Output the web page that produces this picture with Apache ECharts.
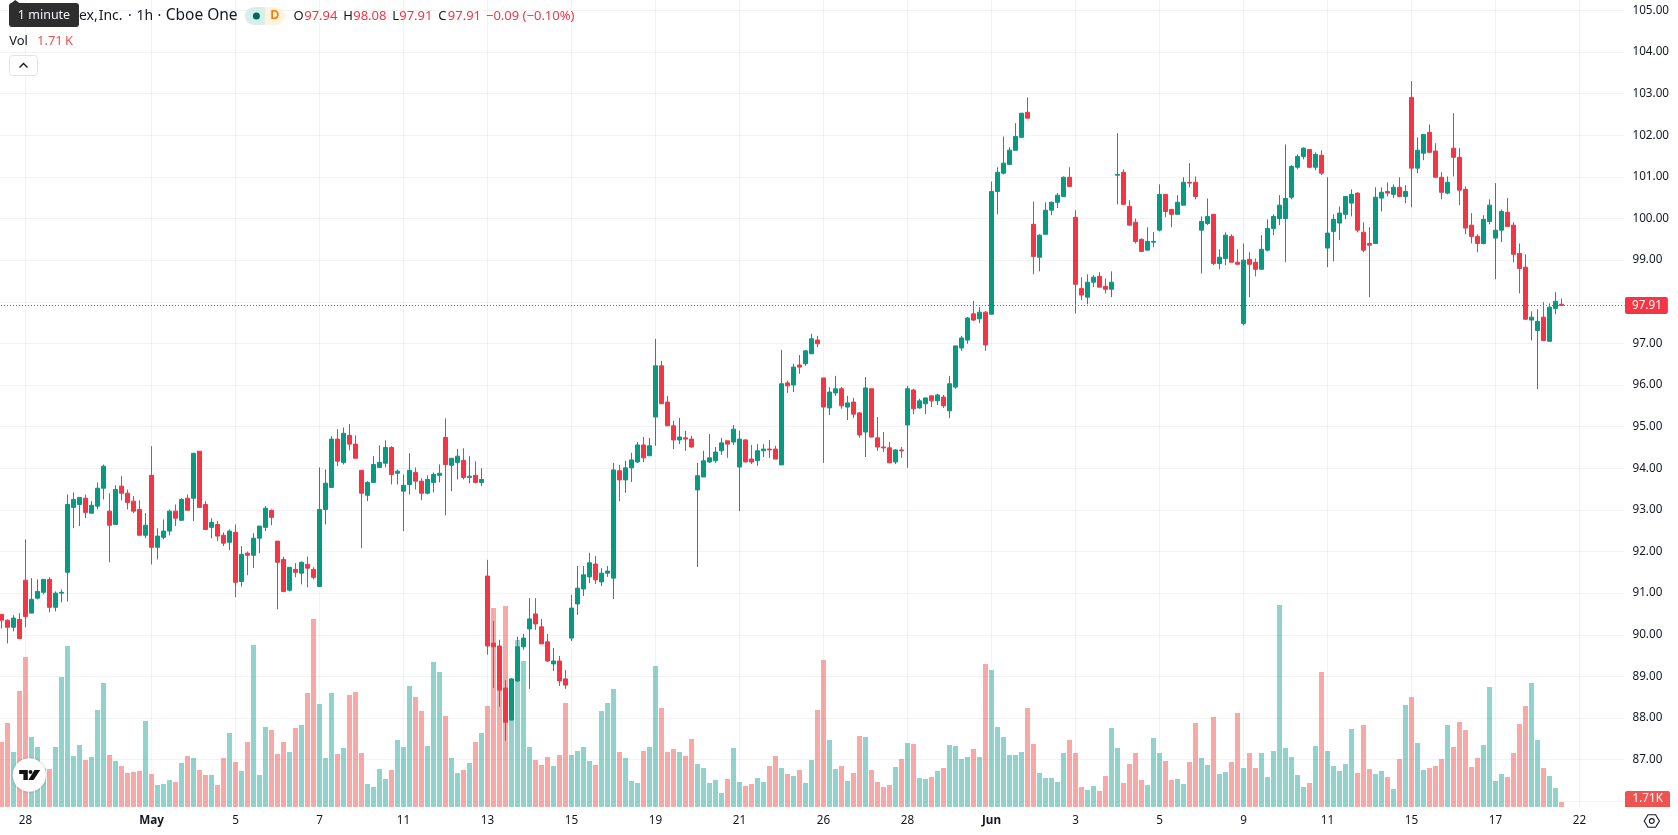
<!DOCTYPE html>
<html>
<head>
<meta charset="utf-8">
<title>Hourly candles with volume</title>
<style>
  html, body { margin: 0; padding: 0; background: #ffffff; }
  #chart { width: 1678px; height: 835px; overflow: hidden; }
</style>
<script src="https://cdn.jsdelivr.net/npm/echarts@6/dist/echarts.min.js"></script>
</head>
<body>
<div id="chart"></div>
<script>
// Hourly session prices, seven bars per trading day.
const opens = [
  90.49,90.35,90.18,90.37,91.31,90.52,90.88,91.02,91.33,90.66,
  91.00,91.50,93.06,93.13,93.28,92.92,93.09,93.52,92.97,92.65,
  93.57,93.40,93.21,93.01,92.39,93.83,92.10,92.34,92.49,92.97,
  92.75,93.28,93.28,94.41,93.13,92.58,92.65,92.39,92.22,92.46,
  91.28,91.96,91.91,92.32,92.58,92.99,92.25,91.81,91.07,91.57,
  91.48,91.69,91.57,91.16,93.01,93.54,94.70,94.14,94.79,94.58,
  93.95,93.35,93.66,94.02,94.12,94.50,93.88,93.45,93.61,93.90,
  93.69,93.40,93.66,93.83,94.74,94.07,94.14,94.19,93.78,93.83,
  93.66,91.41,89.80,89.73,88.72,87.95,88.89,89.71,90.14,90.50,
  90.19,89.83,89.30,89.37,88.94,89.92,90.74,91.10,91.39,91.70,
  91.27,91.48,91.36,93.94,93.72,94.01,94.15,94.56,94.30,95.23,
  96.46,95.59,95.02,94.68,94.73,94.70,93.48,93.79,94.15,94.18,
  94.42,94.66,94.63,94.03,94.68,94.22,94.18,94.42,94.46,94.46,
  94.08,96.05,96.00,96.48,96.51,96.75,97.08,96.17,95.45,95.81,
  95.91,95.47,95.59,95.33,94.87,95.91,94.73,94.51,94.49,94.15,
  94.44,95.04,95.88,95.45,95.55,95.74,95.62,95.71,95.38,95.95,
  96.89,97.08,97.71,97.59,97.75,97.70,100.65,101.09,101.30,101.64,
  101.95,102.55,99.86,99.07,99.62,100.20,100.39,100.53,100.99,100.03,
  98.32,98.11,98.47,98.61,98.37,98.30,101.04,101.11,100.29,99.91,
  99.50,99.24,99.43,99.72,100.58,100.22,100.10,100.32,100.87,100.87,
  99.72,99.88,100.10,98.92,99.04,99.57,98.95,97.48,99.02,98.95,
  98.78,99.24,99.76,100.00,100.00,100.51,101.23,101.49,101.66,101.23,
  101.52,99.29,99.69,99.89,100.10,100.37,100.61,99.67,99.40,99.40,
  100.49,100.65,100.58,100.75,100.53,102.91,101.21,101.57,102.07,101.62,
  100.99,100.61,101.69,101.47,100.70,99.84,99.57,99.40,99.93,99.53,
  99.72,100.15,99.84,99.16,98.83,97.56,97.31,97.63,97.05,97.84,97.94
];
const highs = [
  90.50,90.37,90.47,90.52,92.29,91.36,91.33,91.33,91.38,91.04,
  91.09,93.37,93.42,93.30,93.37,93.21,93.66,94.09,93.40,93.59,
  93.81,93.49,93.33,93.23,92.92,94.53,92.56,92.77,93.01,93.13,
  93.28,93.37,94.36,94.41,93.21,92.80,92.73,92.46,92.53,92.65,
  92.13,92.00,92.44,92.61,93.09,93.01,92.25,91.88,91.62,91.72,
  91.76,91.88,91.62,94.02,93.97,94.77,94.94,94.98,95.06,94.79,
  93.95,93.69,94.29,94.55,94.67,94.53,93.97,93.85,94.36,94.02,
  93.76,93.83,93.90,94.09,95.20,94.24,94.46,94.48,94.29,94.17,
  94.00,91.80,90.33,89.88,88.91,88.96,89.95,90.02,90.88,90.88,
  90.38,90.02,89.68,89.49,89.15,90.96,91.65,91.65,91.97,91.89,
  91.60,91.65,94.13,94.08,94.18,94.37,94.63,94.75,94.73,97.11,
  96.58,95.74,95.14,95.21,94.90,94.78,94.13,94.42,94.82,94.51,
  94.73,94.66,95.04,94.90,94.70,94.56,94.58,94.58,94.68,94.54,
  96.84,96.10,96.51,96.72,96.84,97.23,97.18,96.17,95.95,96.22,
  95.95,95.74,95.69,95.35,96.19,95.91,95.23,94.87,94.63,94.46,
  94.51,95.98,95.91,95.67,95.69,95.74,95.79,95.76,96.22,96.94,
  97.18,97.63,98.02,97.87,97.78,100.89,101.23,101.97,101.71,102.29,
  102.53,102.91,100.41,99.62,100.39,100.41,100.61,101.01,101.23,100.20,
  98.59,98.66,98.64,98.71,98.56,98.73,102.05,101.18,100.44,100.00,
  99.52,99.79,99.67,100.82,100.58,100.22,100.56,100.99,101.33,101.01,
  100.05,100.48,100.10,99.26,99.67,99.62,99.26,99.40,99.19,99.04,
  99.60,99.98,100.10,100.56,101.78,101.28,101.54,101.71,101.66,101.59,
  101.64,100.99,100.10,100.29,100.53,100.70,100.63,99.91,99.79,100.75,
  100.75,100.87,100.82,100.99,100.80,103.30,101.95,102.02,102.26,101.81,
  101.11,101.01,102.53,101.69,100.77,100.13,99.62,100.08,100.46,100.85,
  100.22,100.49,99.91,99.40,99.14,97.77,97.82,97.99,97.96,98.23,98.08
];
const lows = [
  90.15,89.79,90.08,89.91,90.18,90.52,90.85,90.97,90.54,90.56,
  90.78,90.80,92.56,92.61,92.80,92.92,93.01,93.25,91.74,92.65,
  93.23,93.01,92.92,92.39,92.32,91.69,91.81,92.29,92.39,92.61,
  92.75,92.99,92.73,93.06,92.53,92.32,92.25,92.13,92.03,90.90,
  91.16,91.43,91.60,91.96,92.49,92.63,90.61,91.02,91.04,91.38,
  91.21,91.14,91.33,91.16,92.65,93.54,94.05,94.09,94.43,94.24,
  92.08,93.21,93.66,94.02,94.02,93.61,93.61,92.49,93.37,93.49,
  93.23,93.37,93.42,93.66,92.87,93.45,93.73,93.73,93.64,93.64,
  93.57,89.52,88.72,88.27,87.45,87.95,88.87,89.64,88.70,90.12,
  89.78,89.35,89.13,88.77,88.70,89.85,90.48,90.93,91.24,91.22,
  91.17,91.39,90.86,93.21,93.41,93.67,94.13,94.15,94.30,94.54,
  95.55,95.02,94.46,94.58,94.42,94.49,91.63,93.79,94.13,94.13,
  94.32,94.25,94.56,92.97,94.15,94.10,94.06,94.27,94.25,94.22,
  94.08,95.81,95.83,96.27,96.46,96.75,96.91,94.13,95.28,95.74,
  95.43,95.16,95.21,94.73,94.27,94.75,94.42,94.39,94.13,94.10,
  94.25,94.01,95.30,95.43,95.30,95.47,95.52,95.45,95.21,95.91,
  96.82,96.99,97.54,97.49,96.82,97.70,100.10,101.06,101.30,101.64,
  101.93,102.41,98.66,98.73,99.62,100.08,100.25,100.53,100.77,97.72,
  98.04,97.94,98.35,98.35,98.20,98.11,100.34,100.34,99.84,99.40,
  99.21,99.24,99.31,99.69,100.03,99.79,100.10,100.32,100.75,100.46,
  98.68,99.84,98.88,98.78,98.88,98.95,98.90,97.43,98.11,98.61,
  98.78,99.21,99.60,99.84,98.95,100.46,101.18,101.42,101.21,101.16,
  101.04,98.83,98.97,99.48,99.98,100.05,99.67,99.19,98.11,99.40,
  100.17,100.53,100.49,100.51,100.37,100.27,101.09,101.40,101.59,100.99,
  100.46,100.58,101.01,100.32,99.62,99.40,99.19,99.38,99.86,98.54,
  99.43,99.81,98.95,98.20,97.56,97.07,95.90,97.07,97.05,97.70,97.91
];
const closes = [
  90.35,90.18,90.40,89.91,90.44,90.85,91.04,91.33,90.66,91.00,
  91.02,93.13,93.25,93.30,92.94,93.11,93.52,94.05,92.63,93.49,
  93.40,93.18,92.97,92.39,92.63,92.10,92.37,92.49,92.97,92.80,
  93.25,92.99,94.36,93.06,92.53,92.70,92.37,92.20,92.49,91.26,
  91.93,91.91,92.32,92.61,93.04,92.82,91.74,91.04,91.62,91.50,
  91.74,91.60,91.38,93.01,93.64,94.70,94.17,94.84,94.58,94.24,
  93.40,93.66,94.09,94.14,94.50,93.85,93.93,93.59,93.95,93.69,
  93.40,93.73,93.85,93.88,94.09,94.24,94.29,93.78,93.81,93.66,
  93.73,89.73,89.71,88.67,87.90,88.94,89.71,89.92,90.38,90.26,
  89.78,89.37,89.37,88.89,88.79,90.64,91.12,91.44,91.73,91.32,
  91.48,91.53,93.96,93.72,94.01,94.20,94.56,94.25,94.54,96.46,
  95.55,95.02,94.68,94.75,94.70,94.51,93.82,94.18,94.25,94.39,
  94.61,94.58,94.94,94.70,94.15,94.15,94.42,94.46,94.44,94.22,
  96.03,95.98,96.43,96.43,96.82,97.11,96.99,95.47,95.83,95.91,
  95.50,95.57,95.30,94.80,95.93,94.75,94.51,94.49,94.13,94.44,
  94.42,95.91,95.43,95.62,95.69,95.62,95.76,95.50,96.03,96.94,
  97.13,97.61,97.56,97.75,96.96,100.65,101.11,101.33,101.64,101.97,
  102.53,102.41,99.09,99.60,100.20,100.39,100.56,100.99,100.77,98.42,
  98.16,98.47,98.59,98.35,98.30,98.47,101.06,100.34,99.84,99.45,
  99.21,99.45,99.45,100.58,100.17,100.10,100.39,100.87,100.85,100.53,
  99.93,100.05,98.92,99.07,99.60,98.95,98.90,99.00,98.90,98.78,
  99.26,99.76,100.05,100.32,100.48,101.25,101.49,101.69,101.23,101.54,
  101.09,99.65,99.98,100.13,100.53,100.58,99.72,99.24,99.36,100.51,
  100.63,100.61,100.75,100.53,100.65,101.21,101.64,102.02,101.59,100.99,
  100.63,100.87,101.47,100.68,99.77,99.57,99.40,99.98,100.32,99.72,
  100.17,99.81,99.14,98.80,97.58,97.63,97.53,97.07,97.87,98.01,97.91
];
// Traded volume per bar, in thousands of shares.
const volumes = [
  22.23,28.73,18.81,39.67,51.30,23.94,20.52,13.22,13.00,20.52,
  44.46,55.06,17.44,21.20,16.07,17.10,33.17,42.41,17.78,15.73,
  14.02,11.63,11.97,12.31,29.41,11.29,7.52,7.87,9.23,8.55,
  15.05,17.44,16.76,12.65,10.94,10.94,7.52,16.76,25.31,15.39,
  12.31,22.23,55.40,10.94,27.36,26.33,18.13,22.23,18.81,27.02,
  28.04,38.99,64.30,35.23,16.76,38.99,18.13,20.18,38.30,39.33,
  18.47,7.87,6.84,13.00,9.58,12.65,22.91,20.52,41.38,37.62,
  32.83,20.86,49.59,46.17,31.12,16.76,11.63,12.65,15.05,22.23,
  25.31,34.54,68.06,47.99,68.74,36.59,57.11,49.93,20.52,16.07,
  14.36,17.10,14.02,17.78,35.57,17.78,19.15,20.52,15.73,14.36,
  32.83,35.57,40.36,18.81,16.76,8.89,8.21,19.15,20.52,48.22,
  33.86,18.81,19.84,18.81,17.44,23.26,14.71,13.34,8.21,9.23,
  4.79,9.58,20.18,8.55,7.18,7.87,9.92,8.55,14.02,17.44,
  13.34,11.29,10.60,12.65,8.21,16.07,33.17,50.27,22.91,13.00,
  14.02,8.89,11.63,24.28,23.94,12.65,8.55,6.84,7.52,13.68,
  16.42,21.89,21.55,9.92,9.58,10.26,12.31,13.34,21.20,20.86,
  16.42,17.10,19.84,17.10,48.91,46.85,27.36,23.94,17.78,17.78,
  18.81,33.86,21.55,11.63,9.92,9.92,8.55,18.47,22.91,18.47,
  6.84,5.81,7.18,5.47,10.60,27.02,20.18,8.21,14.71,18.47,
  9.23,7.52,23.60,18.47,15.73,9.23,9.58,7.87,15.39,28.73,
  16.76,14.36,30.78,11.29,11.97,15.39,32.15,13.34,18.47,13.34,
  18.47,10.26,19.15,69.08,20.18,17.10,10.94,6.84,8.21,20.86,
  46.17,19.15,14.02,12.31,14.71,26.68,11.63,28.04,13.00,11.29,
  12.31,10.26,6.16,16.42,34.88,37.62,21.89,12.65,13.34,14.02,
  16.42,28.04,20.52,29.07,26.33,13.68,16.76,21.20,41.04,8.89,
  11.29,10.26,18.47,28.39,34.54,42.41,22.91,13.34,10.60,6.50,1.71
];

// Date labels on the time axis and the bar slots they sit on.
const tickLabels = ['28','May','5','7','11','13','15','19','21','26','28','Jun','3','5','9','11','15','17','22'];
const tickSlots  = [4,25,39,53,67,81,95,109,123,137,151,165,179,193,207,221,235,249,263];
const monthLabels = ['May','Jun'];

// Price axis range; lines every dollar, labels from 87 up to 105.
// The 98 label gives way to the last-price tag.
const priceMin = 85, priceMax = 106, labelFloor = 87, labelCeil = 105, labelCovered = 98;
const lastClose = 97.91;
const lastVolumeText = '1.71K';

const UP = '#089981', DOWN = '#F23645';
const UP_SOFT = 'rgba(38,166,154,0.5)', DOWN_SOFT = 'rgba(239,83,80,0.5)';
const VOLUME_RED = '#ef5350';
const GRID_LINE = 'rgba(42,46,57,0.06)';
const TEXT = '#131722';
const FONT = '"Noto Sans", sans-serif';
const AXIS_FONT_SIZE = 11.7;

const SLOT_COUNT = 271;
const BAR_PITCH = 6;
const PANE_LEFT = -1.5;
const PX_PER_DOLLAR = 41.625;
const PANE_BOTTOM = 807;
const Y_OF_103 = 93.63;

const categories = Array.from({ length: SLOT_COUNT }, (_, i) => String(i));
const candles = opens.map((o, i) => [o, closes[i], lows[i], highs[i]]);
const volumeBars = volumes.map((v, i) => ({
  value: v,
  itemStyle: { color: closes[i] >= opens[i] ? UP_SOFT : DOWN_SOFT }
}));

const isTickSlot = i => tickSlots.indexOf(i) !== -1;

const titleParts = [
  { x: 79, text: 'ex,', size: 14 },
  { x: 98.7, text: 'Inc.', size: 14 },
  { x: 128, text: '\u00b7', size: 14 },
  { x: 136.6, text: '1h', size: 14 },
  { x: 157.5, text: '\u00b7', size: 14 },
  { x: 165.7, text: 'Cboe One', size: 15.5 }
];

const headerItems = [
  { x: 293.5, text: 'O', fill: TEXT },
  { x: 304.2, text: opens[opens.length - 1].toFixed(2), fill: DOWN },
  { x: 343.3, text: 'H', fill: TEXT },
  { x: 353.2, text: highs[highs.length - 1].toFixed(2), fill: DOWN },
  { x: 392.3, text: 'L', fill: TEXT },
  { x: 399.2, text: lows[lows.length - 1].toFixed(2), fill: DOWN },
  { x: 438.2, text: 'C', fill: TEXT },
  { x: 447.8, text: closes[closes.length - 1].toFixed(2), fill: DOWN },
  { x: 486, text: '\u22120.09 (\u22120.10%)', fill: DOWN }
];

const label = (x, y, text, fill, size, extra) => ({
  type: 'text', x, y, z: 20,
  style: Object.assign({
    text, fill, font: size + 'px ' + FONT,
    align: 'left', verticalAlign: 'middle'
  }, extra || {})
});

const overlay = [
  // Symbol line and status pill
  ...titleParts.map(p => label(p.x, 16, p.text, TEXT, p.size)),
  { type: 'rect', z: 20, shape: { x: 245, y: 7, width: 20, height: 18, r: [9, 0, 0, 9] }, style: { fill: '#d5efe9' } },
  { type: 'rect', z: 20, shape: { x: 265, y: 7, width: 20, height: 18, r: [0, 9, 9, 0] }, style: { fill: '#fff3e0' } },
  { type: 'circle', z: 21, shape: { cx: 256.4, cy: 16, r: 3.5 }, style: { fill: '#00695c' } },
  label(270.5, 16, 'D', '#f57c00', 12, { fontWeight: 'bold' }),
  ...headerItems.map(h => label(h.x, 16, h.text, h.fill, 13)),

  // Volume legend and collapse button
  label(9.2, 41, 'Vol', TEXT, 13),
  label(37, 41, '1.71\u2009K', VOLUME_RED, 13),
  { type: 'rect', z: 20, shape: { x: 9.5, y: 55.5, width: 28, height: 20, r: 3 }, style: { fill: '#ffffff', stroke: '#e0e3eb', lineWidth: 1 } },
  { type: 'polyline', z: 21, shape: { points: [[19.5, 67.5], [23.5, 63.5], [27.5, 67.5]] }, style: { stroke: TEXT, lineWidth: 1.4, fill: 'none' } },

  // Hover hint above the symbol line
  { type: 'polygon', z: 22, shape: { points: [[10, 4], [15.3, 0], [20.5, 4]] }, style: { fill: '#2e2e2e' } },
  { type: 'rect', z: 22, shape: { x: 9, y: 3, width: 70, height: 24, r: 3 }, style: { fill: '#2e2e2e' } },
  Object.assign(label(44, 15.5, '1 minute', '#f0f3fa', 12.5, { align: 'center' }), { z: 23 }),

  // Volume tag on the price scale
  { type: 'rect', z: 20, shape: { x: 1625, y: 791, width: 45, height: 16, r: [2, 2, 0, 0] }, style: { fill: VOLUME_RED } },
  label(1632.5, 799, lastVolumeText, '#ffffff', AXIS_FONT_SIZE),

  // Brand badge
  { type: 'circle', z: 20, shape: { cx: 29.3, cy: 775, r: 16.7 }, style: { fill: '#ffffff', shadowBlur: 3, shadowColor: 'rgba(0,0,0,0.25)' } },
  { type: 'polygon', z: 21, shape: { points: [[19.2, 770], [27.8, 770], [27.8, 780], [23.4, 780], [23.4, 774], [19.2, 774]] }, style: { fill: '#111111' } },
  { type: 'circle', z: 21, shape: { cx: 30.5, cy: 772, r: 1.9 }, style: { fill: '#111111' } },
  { type: 'polygon', z: 21, shape: { points: [[34.5, 770], [40.2, 770], [33.6, 780], [28.3, 780]] }, style: { fill: '#111111' } },

  // Scale settings glyph
  { type: 'polygon', z: 20, shape: { points: [[1644.2, 821], [1648, 814.8], [1655.6, 814.8], [1659.4, 821], [1655.6, 827.2], [1648, 827.2]] }, style: { fill: 'none', stroke: TEXT, lineWidth: 1.1 } },
  { type: 'circle', z: 20, shape: { cx: 1651.8, cy: 821, r: 2.4 }, style: { fill: 'none', stroke: TEXT, lineWidth: 1.1 } }
];

const chart = echarts.init(document.getElementById('chart'), null, { renderer: 'canvas' });
chart.setOption({
  animation: false,
  backgroundColor: '#ffffff',
  tooltip: { show: false },
  grid: [
    {
      outerBoundsMode: 'none',
      containLabel: false,
      left: PANE_LEFT,
      width: SLOT_COUNT * BAR_PITCH,
      top: Y_OF_103 - (priceMax - 103) * PX_PER_DOLLAR,
      height: (priceMax - priceMin) * PX_PER_DOLLAR
    },
    {
      outerBoundsMode: 'none',
      containLabel: false,
      left: PANE_LEFT, width: SLOT_COUNT * BAR_PITCH, top: 0, height: PANE_BOTTOM
    }
  ],
  xAxis: [
    {
      type: 'category', gridIndex: 0, data: categories, boundaryGap: true,
      axisLine: { show: false }, axisTick: { show: false },
      axisLabel: { show: false }, splitLine: { show: false }
    },
    {
      type: 'category', gridIndex: 1, data: categories, boundaryGap: true,
      axisLine: { show: false }, axisTick: { show: false },
      axisLabel: {
        show: true,
        interval: i => isTickSlot(i),
        margin: 8,
        color: TEXT,
        fontFamily: FONT,
        fontSize: AXIS_FONT_SIZE,
        formatter: (v, i) => {
          const t = tickLabels[tickSlots.indexOf(i)];
          return monthLabels.indexOf(t) !== -1 ? '{m|' + t + '}' : t;
        },
        rich: { m: { fontWeight: 'bold', color: TEXT, fontFamily: FONT, fontSize: AXIS_FONT_SIZE } }
      },
      splitLine: {
        show: true,
        alignWithLabel: true,
        interval: i => isTickSlot(i),
        lineStyle: { color: GRID_LINE, width: 1 }
      }
    }
  ],
  yAxis: [
    {
      type: 'value', gridIndex: 0, position: 'right',
      min: priceMin, max: priceMax, interval: 1, scale: true,
      axisLine: { show: false }, axisTick: { show: false },
      axisLabel: {
        margin: 8, color: TEXT, fontFamily: FONT, fontSize: AXIS_FONT_SIZE,
        showMinLabel: false, showMaxLabel: false,
        formatter: v => (v >= labelFloor && v <= labelCeil && v !== labelCovered) ? v.toFixed(2) : ''
      },
      splitLine: { show: true, lineStyle: { color: GRID_LINE, width: 1 } }
    },
    {
      type: 'value', gridIndex: 1, min: 0, max: 276,
      axisLine: { show: false }, axisTick: { show: false },
      axisLabel: { show: false }, splitLine: { show: false }
    }
  ],
  series: [
    {
      type: 'bar', name: 'Vol', xAxisIndex: 1, yAxisIndex: 1,
      data: volumeBars, barWidth: 5, z: 1, silent: true
    },
    {
      type: 'candlestick', name: 'Price', xAxisIndex: 0, yAxisIndex: 0,
      data: candles, barWidth: 4, z: 2, silent: true,
      itemStyle: {
        color: UP, color0: DOWN, borderColor: UP, borderColor0: DOWN, borderWidth: 1
      },
      markLine: {
        silent: true, symbol: 'none', animation: false, z: 1,
        lineStyle: { color: DOWN, type: [1, 2], dashOffset: 0.5, width: 1 },
        label: {
          show: true, position: 'end', distance: 0.5,
          formatter: lastClose.toFixed(2),
          color: '#ffffff', backgroundColor: DOWN, fontFamily: FONT, fontSize: AXIS_FONT_SIZE,
          lineHeight: 13, padding: [2, 6, 2, 7], borderRadius: 2
        },
        data: [{ yAxis: lastClose }]
      }
    }
  ],
  graphic: { elements: overlay }
});
</script>
</body>
</html>
